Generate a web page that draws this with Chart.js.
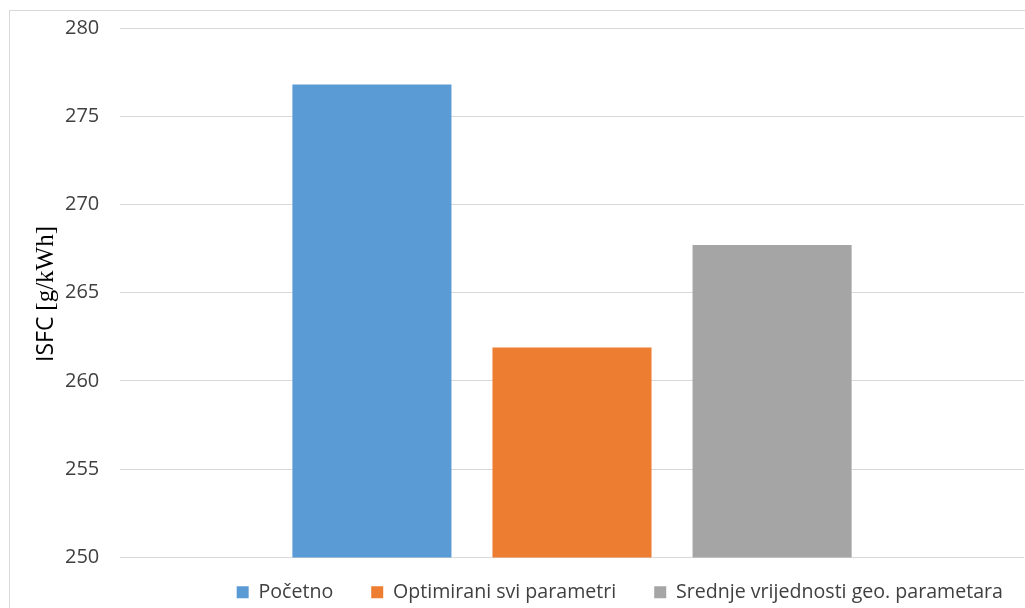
<!DOCTYPE html>
<html>
<head>
<meta charset="utf-8">
<script src="https://cdn.jsdelivr.net/npm/chart.js@4"></script>
<style>
    body { margin: 0; background: #fff; overflow: hidden; }
    #frame {
        position: absolute; left: 9px; top: 10px;
        width: 1030px; height: 640px;
        border: 1px solid #d9d9d9; box-sizing: border-box;
    }
    #wrap { position: absolute; left: 0; top: 0; width: 1020px; height: 614px; }
</style>
</head>
<body>
<div id="frame"><div id="wrap"><canvas id="myChart"></canvas></div></div>
<script>
// podaci
const categories = [''];
const seriesNames = ['Početno', 'Optimirani svi parametri', 'Srednje vrijednosti geo. parametara'];
const seriesValues = [276.8, 261.9, 267.7];
const seriesColors = ['#5b9bd5', '#ed7d31', '#a5a5a5'];
const yMin = 250, yMax = 280, yStep = 5;

(() => {
    const ctx = document.getElementById('myChart').getContext('2d');

    // naslov osi y: "ISFC" sans + "[g/kWh]" serif
    const yTitle = {
        id: 'yTitle',
        afterDraw(chart) {
            const c = chart.ctx;
            const parts = [
                { t: 'ISFC ', f: '23px "Open Sans"' },
                { t: '[g/kWh]', f: '25px "Liberation Serif"' }
            ];
            let total = 0;
            for (const p of parts) { c.font = p.f; p.w = c.measureText(p.t).width; total += p.w; }
            c.save();
            c.translate(36, 283);
            c.rotate(-Math.PI / 2);
            c.fillStyle = '#000';
            c.textBaseline = 'middle';
            let x = -total / 2;
            for (const p of parts) { c.font = p.f; c.fillText(p.t, x, 0); x += p.w; }
            c.restore();
        }
    };

    // legenda: pomak udesno i gore
    const legendShift = {
        id: 'legendShift',
        afterLayout(chart) {
            const lg = chart.legend;
            lg.left += 17; lg.right += 17;
            lg.top -= 13; lg.bottom -= 13;
        }
    };

    const datasets = seriesNames.map((name, i) => ({
        label: name,
        data: [seriesValues[i]],
        backgroundColor: seriesColors[i],
        barPercentage: 0.795,
        categoryPercentage: 0.664
    }));

    new Chart(ctx, {
        type: 'bar',
        data: { labels: categories, datasets: datasets },
        options: {
            responsive: true,
            maintainAspectRatio: false,
            animation: false,
            layout: { padding: { top: 17, right: 6, left: 55, bottom: 0 } },
            plugins: {
                tooltip: { enabled: false },
                legend: {
                    position: 'bottom',
                    align: 'end',
                    labels: {
                        boxWidth: 12, boxHeight: 12, padding: 38,
                        color: '#404040',
                        font: { family: 'Open Sans', size: 19.6 }
                    }
                }
            },
            scales: {
                x: { display: false },
                y: {
                    min: yMin, max: yMax,
                    afterFit: (scale) => { scale.width = 55; },
                    ticks: {
                        stepSize: yStep, padding: 0, crossAlign: 'far',
                        color: '#404040',
                        font: { family: 'Open Sans', size: 20 }
                    },
                    grid: { color: '#d9d9d9', drawTicks: false },
                    border: { display: false }
                }
            }
        },
        plugins: [yTitle, legendShift]
    });
})();
</script>
</body>
</html>
